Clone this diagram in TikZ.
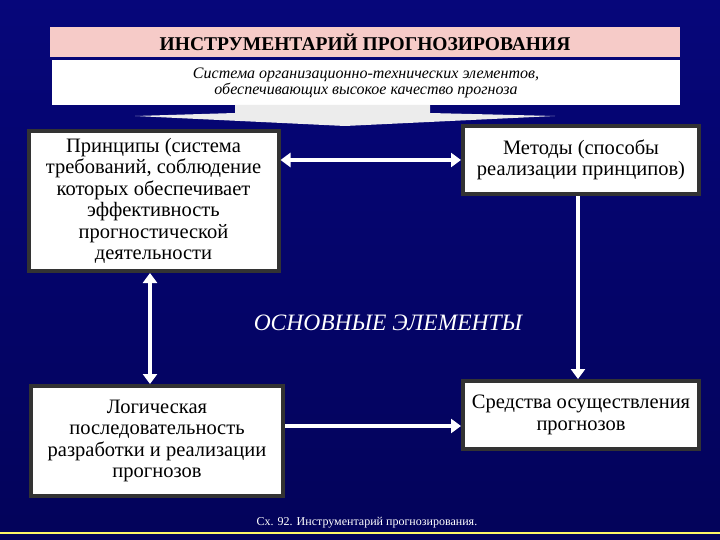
\documentclass[tikz,border=0pt]{standalone}
\usepackage{fontspec}
\setmainfont{Liberation Serif}
\usetikzlibrary{arrows.meta}
\definecolor{bgtop}{HTML}{06067A}
\definecolor{bgmid}{HTML}{1616E0}
\definecolor{bgbot}{HTML}{03035A}
\definecolor{pinkc}{HTML}{F6CBC8}
\definecolor{shadowc}{HTML}{333333}
\tikzset{
  x=1pt,y=-1pt,
  wbox/.style={draw=shadowc,line width=4pt,fill=white,align=center,font=\fontsize{20.5}{21.5}\selectfont,inner sep=2pt},
  conn/.style={white,line width=4pt,-{Triangle[length=10pt,width=14pt]}},
  dconn/.style={white,line width=4pt,{Triangle[length=10pt,width=14pt]}-{Triangle[length=10pt,width=14pt]}}
}
\begin{document}
\begin{tikzpicture}
\useasboundingbox (0,0) rectangle (720,540);
\shade[top color=bgtop,middle color=bgmid,bottom color=bgbot] (0,0) rectangle (720,540);
\draw[yellow!60!white,line width=1.5pt] (0,533) -- (720,533);
% title
\node[fill=pinkc,minimum width=630pt,minimum height=30pt,inner sep=0pt,font=\fontsize{19.5}{20}\selectfont\bfseries] (title) at (365,42) {ИНСТРУМЕНТАРИЙ ПРОГНОЗИРОВАНИЯ};
\node[fill=white,minimum width=628pt,minimum height=45pt,inner sep=0pt,align=center,font=\fontsize{16}{16}\selectfont\itshape] (sub) at (366,82.5) {Система организационно-технических элементов,\\обеспечивающих высокое качество прогноза};
% wide arrow
\fill[gray!15] (235,105) -- (430,105) -- (430,113) -- (555,116) -- (345,126) -- (135,116) -- (235,113) -- cycle;
% boxes
\node[wbox,minimum width=250pt,minimum height=140pt] (pr) at (153.5,201) {Принципы (система\\требований, соблюдение\\которых обеспечивает\\эффективность\\прогностической\\деятельности};
\node[wbox,minimum width=236pt,minimum height=68pt] (me) at (581,160) {Методы (способы\\реализации принципов)};
\node[wbox,minimum width=252pt,minimum height=110pt] (lo) at (157,441) {Логическая\\последовательность\\разработки и реализации\\прогнозов};
\node[wbox,minimum width=236pt,minimum height=68pt] (sr) at (581,415) {Средства осуществления\\прогнозов};
% connectors
\draw[dconn] (pr.east |- 0,160) -- (me.west |- 0,160);
\draw[dconn] (pr.south -| 150,0) -- (lo.north -| 150,0);
\draw[conn] (me.south -| 578,0) -- (sr.north -| 578,0);
\draw[conn] (lo.east |- 0,426) -- (sr.west |- 0,426);
% labels
\node[text=white,font=\fontsize{23.5}{24}\selectfont\itshape] (lab) at (388,323) {ОСНОВНЫЕ ЭЛЕМЕНТЫ};
\node[text=white,font=\fontsize{12}{12}\selectfont] (cap) at (367,523) {Сх. 92. Инструментарий прогнозирования.};
\end{tikzpicture}
\end{document}
